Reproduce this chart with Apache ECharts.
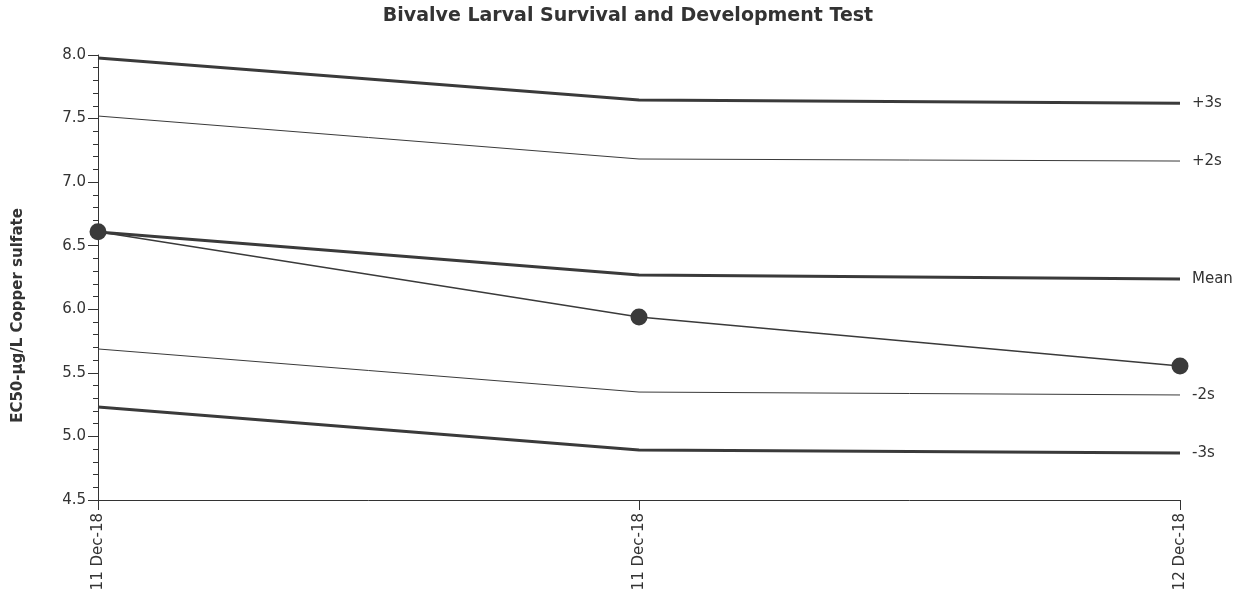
<!DOCTYPE html>
<html>
<head>
<meta charset="utf-8">
<script src="https://cdn.jsdelivr.net/npm/echarts@6/dist/echarts.min.js"></script>
<style>html,body{margin:0;padding:0;background:#fff}#c{width:1244px;height:595px}</style>
</head>
<body>
<div id="c"></div>
<script>
const categories = ['11 Dec-18', '11 Dec-18', '12 Dec-18'];
const plus3s = [7.976, 7.646, 7.62];
const plus2s = [7.52, 7.182, 7.166];
const mean = [6.608, 6.27, 6.238];
const minus2s = [5.688, 5.349, 5.326];
const minus3s = [5.231, 4.893, 4.87];
const ec50 = [6.61, 5.939, 5.554];
const yTicks = { min: 4.5, max: 8.0, interval: 0.5 };

const FONT = 'DejaVu Sans';
const INK = '#333333';
const LINE = '#3a3a3a';

function limitSeries(name, data, width) {
  return {
    name: name, type: 'line', data: data, symbol: 'none', silent: true,
    lineStyle: { color: LINE, width: width },
    endLabel: { show: true, formatter: name, color: INK, fontFamily: FONT, fontSize: 15, distance: 12 },
    z: 2
  };
}

const chart = echarts.init(document.getElementById('c'), null, { renderer: 'canvas' });
chart.setOption({
  animation: false,
  backgroundColor: '#ffffff',
  title: {
    text: 'Bivalve Larval Survival and Development Test',
    left: 623, top: 2, textAlign: 'center',
    textStyle: { fontFamily: FONT, fontSize: 19, fontWeight: 'bold', color: INK }
  },
  grid: { left: 98, right: 64, top: 55, bottom: 95, containLabel: false, outerBoundsMode: 'none' },
  xAxis: {
    type: 'category', data: categories, boundaryGap: false,
    axisLine: { lineStyle: { color: INK, width: 1 } },
    axisTick: { show: true, length: 10, lineStyle: { color: INK } },
    axisLabel: { rotate: 90, color: INK, fontFamily: FONT, fontSize: 15, margin: 13 },
    splitLine: { show: false }
  },
  yAxis: {
    type: 'value', min: yTicks.min, max: yTicks.max, interval: yTicks.interval,
    name: 'EC50-µg/L Copper sulfate', nameLocation: 'middle', nameGap: 72, nameRotate: 90,
    nameTextStyle: { fontFamily: FONT, fontSize: 15, fontWeight: 'bold', color: INK, padding: [0, 76, 0, 0] },
    axisLine: { show: true, lineStyle: { color: INK, width: 1 } },
    axisTick: { show: true, length: 10, lineStyle: { color: INK } },
    minorTick: { show: true, splitNumber: 5, length: 5, lineStyle: { color: INK } },
    axisLabel: { color: INK, fontFamily: FONT, fontSize: 15, margin: 12, formatter: v => v.toFixed(1) },
    splitLine: { show: false }
  },
  series: [
    limitSeries('+3s', plus3s, 3),
    limitSeries('+2s', plus2s, 1),
    limitSeries('Mean', mean, 3),
    limitSeries('-2s', minus2s, 1),
    limitSeries('-3s', minus3s, 3),
    {
      name: 'EC50', type: 'line', data: ec50, symbol: 'circle', symbolSize: 17,
      itemStyle: { color: LINE }, lineStyle: { color: LINE, width: 1.5 }, z: 3
    }
  ]
});
</script>
</body>
</html>
